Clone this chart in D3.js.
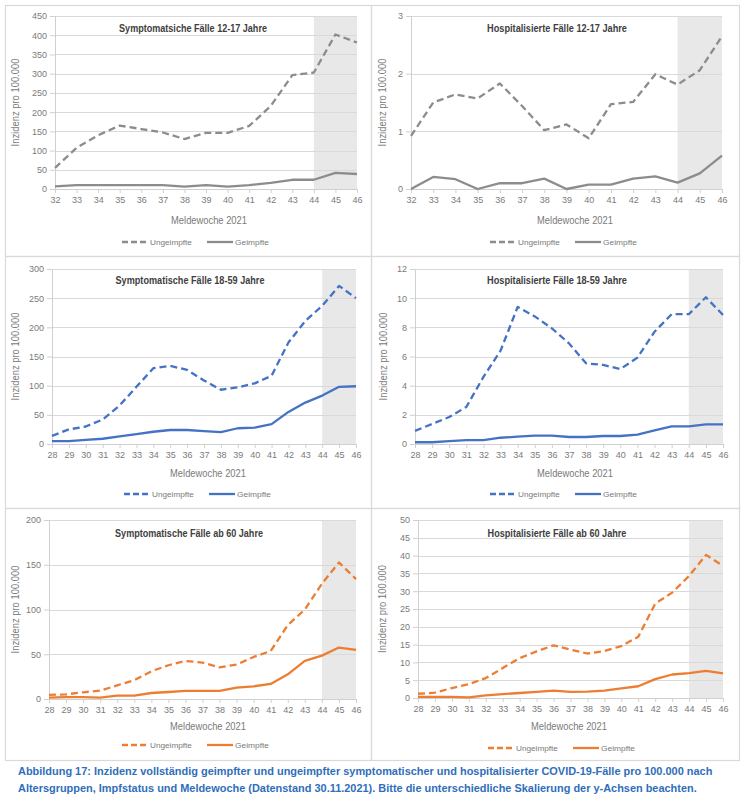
<!DOCTYPE html>
<html><head><meta charset="utf-8">
<script src="https://cdn.jsdelivr.net/npm/d3@7"></script>
<style>body{margin:0;background:#fff}svg{display:block}</style>
</head><body>
<script>
// ---------- data ----------
const weeksYoung = [32,33,34,35,36,37,38,39,40,41,42,43,44,45,46];
const weeksAdult = [28,29,30,31,32,33,34,35,36,37,38,39,40,41,42,43,44,45,46];

const symp1217Ungeimpft = [55,107,140,165,156,147,130,146,146,164,216,296,303,402,381];
const symp1217Geimpft   = [7,10,10,10,10,10,6,10,6,10,16,24,24,42,39];
const hosp1217Ungeimpft = [0.92,1.5,1.64,1.57,1.83,1.44,1.02,1.12,0.88,1.47,1.51,1.99,1.81,2.06,2.65];
const hosp1217Geimpft   = [0,0.21,0.17,0,0.1,0.1,0.18,0,0.075,0.075,0.18,0.22,0.11,0.27,0.58];

const symp1859Ungeimpft = [14,25,30,42,66,98,130,134,127,109,93,97,104,117,174,211,237,271,250];
const symp1859Geimpft   = [5,5,7,9,13,17,21,24,24,22,20.5,27,28,34,55,71,83,98,99];
const hosp1859Ungeimpft = [0.9,1.37,1.85,2.54,4.6,6.4,9.4,8.75,7.93,6.9,5.53,5.42,5.14,5.92,7.7,8.9,8.9,10.06,8.85];
const hosp1859Geimpft   = [0.12,0.12,0.2,0.27,0.27,0.43,0.5,0.57,0.57,0.48,0.48,0.55,0.55,0.64,0.94,1.21,1.21,1.35,1.35];

const symp60Ungeimpft = [4.5,5.2,7.5,9.3,15.3,21,31,37.7,42.5,40.7,35.4,38.4,47,53.7,82.5,100,128.7,152.6,134];
const symp60Geimpft   = [1.5,2,2,1.5,3.7,3.7,6.7,7.8,9,9,9,12.7,14.2,16.8,27.6,42.5,48.5,57.5,55];
const hosp60Ungeimpft = [1.2,1.5,2.8,3.9,5.6,8.4,11.2,13.1,14.8,13.6,12.5,13.2,14.6,17.2,26.5,29.6,34.3,40.2,37.1];
const hosp60Geimpft   = [0.3,0.3,0.3,0.2,0.75,1.1,1.4,1.7,2.05,1.7,1.8,2.1,2.7,3.3,5.3,6.6,7,7.6,6.9];

const ticksSymp1217 = [0,50,100,150,200,250,300,350,400,450];
const ticksHosp1217 = [0,1,2,3];
const ticksSymp1859 = [0,50,100,150,200,250,300];
const ticksHosp1859 = [0,2,4,6,8,10,12];
const ticksSymp60   = [0,50,100,150,200];
const ticksHosp60   = [0,5,10,15,20,25,30,35,40,45,50];

const titles = [
  "Symptomatsiche Fälle 12-17 Jahre",
  "Hospitalisierte Fälle 12-17 Jahre",
  "Symptomatische Fälle 18-59 Jahre",
  "Hospitalisierte Fälle 18-59 Jahre",
  "Symptomatische Fälle ab 60 Jahre",
  "Hospitalisierte Fälle ab 60 Jahre"
];
const seriesNames = ["Ungeimpfte","Geimpfte"];
const shadeFrom = 44, shadeTo = 46;
const xTitle = "Meldewoche 2021";
const yTitle = "Inzidenz pro 100.000";
const captionLines = [
  "Abbildung 17: Inzidenz vollständig geimpfter und ungeimpfter symptomatischer und hospitalisierter COVID-19-Fälle pro 100.000 nach",
  "Altersgruppen, Impfstatus und Meldewoche (Datenstand 30.11.2021). Bitte die unterschiedliche Skalierung der y-Achsen beachten."
];

// ---------- layout / style ----------
const panels = [
  {weeks:weeksYoung, un:symp1217Ungeimpft, ge:symp1217Geimpft, ticks:ticksSymp1217, color:"#8c8c8c",
   cell:[5,5,371,256], plot:{l:55,r:357,t:16,b:189}, titleX:193, titleY:32, titleW:148, xtX:209, xtY:224, ytX:19, legX:122, legY:242},
  {weeks:weeksYoung, un:hosp1217Ungeimpft, ge:hosp1217Geimpft, ticks:ticksHosp1217, color:"#8c8c8c",
   cell:[371,5,739,256], plot:{l:411,r:722,t:16,b:189}, titleX:557, titleY:32, titleW:140, xtX:575, xtY:224, ytX:386, legX:490, legY:242},
  {weeks:weeksAdult, un:symp1859Ungeimpft, ge:symp1859Geimpft, ticks:ticksSymp1859, color:"#4472C4",
   cell:[5,256,371,508], plot:{l:52,r:356,t:269,b:444}, titleX:190, titleY:284, titleW:149, xtX:208, xtY:477, ytX:19, legX:124, legY:494},
  {weeks:weeksAdult, un:hosp1859Ungeimpft, ge:hosp1859Geimpft, ticks:ticksHosp1859, color:"#4472C4",
   cell:[371,256,739,508], plot:{l:415,r:723,t:269,b:444}, titleX:557, titleY:284, titleW:140, xtX:575, xtY:477, ytX:387, legX:490, legY:494},
  {weeks:weeksAdult, un:symp60Ungeimpft, ge:symp60Geimpft, ticks:ticksSymp60, color:"#ED7D31",
   cell:[5,508,371,760], plot:{l:49,r:356,t:520,b:699}, titleX:189, titleY:537, titleW:148, xtX:208, xtY:730, ytX:19, legX:122, legY:745},
  {weeks:weeksAdult, un:hosp60Ungeimpft, ge:hosp60Geimpft, ticks:ticksHosp60, color:"#ED7D31",
   cell:[371,508,739,760], plot:{l:418,r:723,t:520,b:698}, titleX:557, titleY:537, titleW:139, xtX:569, xtY:730, ytX:386, legX:488, legY:748}
];

const FONT = "'Liberation Sans', Arial, sans-serif";
const svg = d3.select("body").append("svg").attr("width",746).attr("height",800)
  .style("font-family", FONT);

// fit a text horizontally to a target width by scaling (keeps its real bbox accurate)
function fitText(sel, x, y, target, anchor) {
  const node = sel.node();
  const w = node.getComputedTextLength();
  const s = w > 0 ? target / w : 1;
  sel.attr("x", 0).attr("y", 0).attr("text-anchor", anchor)
     .attr("transform", `translate(${x},${y}) scale(${s},1)`);
}

// cell borders
const borderColor = "#d9d9d9";
panels.forEach(p => {
  const [x0,y0,x1,y1] = p.cell;
  svg.append("rect").attr("x",x0+0.5).attr("y",y0+0.5).attr("width",x1-x0).attr("height",y1-y0)
    .attr("fill","none").attr("stroke",borderColor).attr("stroke-width",1.2);
});

panels.forEach((p,i) => {
  const g = svg.append("g");
  const P = p.plot;
  const x = d3.scalePoint().domain(p.weeks).range([P.l,P.r]);
  const y = d3.scaleLinear().domain([0, d3.max(p.ticks)]).range([P.b,P.t]);

  // shaded region
  g.append("rect").attr("x",x(shadeFrom)).attr("y",P.t).attr("width",x(shadeTo)-x(shadeFrom))
    .attr("height",P.b-P.t).attr("fill","#e8e8e8");

  // gridlines
  g.append("g").selectAll("line").data(p.ticks.filter(t=>t>0)).join("line")
    .attr("x1",P.l).attr("x2",P.r).attr("y1",d=>Math.round(y(d))+0.5).attr("y2",d=>Math.round(y(d))+0.5)
    .attr("stroke","#d9d9d9").attr("stroke-width",1);

  // y axis
  const ya = g.append("g").attr("transform",`translate(${P.l},0)`)
    .call(d3.axisLeft(y).tickValues(p.ticks).tickSize(5).tickPadding(3).tickFormat(d3.format("d")));
  ya.select(".domain").attr("stroke","#d0d0d0");
  ya.selectAll(".tick line").attr("stroke","#d0d0d0");
  ya.selectAll("text").attr("fill","#7a7a7a").style("font-size","9px").style("font-family",FONT);

  // x axis
  const xa = g.append("g").attr("transform",`translate(0,${P.b})`)
    .call(d3.axisBottom(x).tickSize(4).tickPadding(4));
  xa.select(".domain").attr("stroke","#d0d0d0");
  xa.selectAll(".tick line").attr("stroke","#d0d0d0");
  xa.selectAll("text").attr("fill","#7a7a7a").style("font-size","9px").style("font-family",FONT);

  // lines
  const line = d3.line().x((d,j)=>x(p.weeks[j])).y(d=>y(d));
  g.append("path").datum(p.un).attr("d",line).attr("fill","none").attr("stroke",p.color)
    .attr("stroke-width",2.3).attr("stroke-dasharray","7,4").attr("stroke-linejoin","round");
  g.append("path").datum(p.ge).attr("d",line).attr("fill","none").attr("stroke",p.color)
    .attr("stroke-width",2.3).attr("stroke-linejoin","round");

  // title
  const t = g.append("text").attr("fill","#404040").style("font-weight","bold").style("font-size","10.5px")
    .text(titles[i]);
  fitText(t, p.titleX, p.titleY, p.titleW, "middle");

  // axis titles
  const xt = g.append("text").attr("fill","#7a7a7a").style("font-size","10px").text(xTitle);
  fitText(xt, p.xtX, p.xtY, 76, "middle");
  const yt = g.append("text").attr("fill","#7a7a7a").style("font-size","10px").text(yTitle);
  const yw = yt.node().getComputedTextLength();
  yt.attr("text-anchor","middle")
    .attr("transform",`translate(${p.ytX},${(P.t+P.b)/2}) rotate(-90) scale(${88/yw},1)`);

  // legend
  const lg = g.append("g").attr("transform",`translate(${p.legX},${p.legY})`);
  lg.append("line").attr("x1",0).attr("x2",26).attr("y1",0).attr("y2",0).attr("stroke",p.color)
    .attr("stroke-width",2.3).attr("stroke-dasharray","6,3");
  const l1 = lg.append("text").attr("fill","#7a7a7a").style("font-size","8px").text(seriesNames[0]);
  fitText(l1, 28, 3, 42, "start");
  lg.append("line").attr("x1",85).attr("x2",111).attr("y1",0).attr("y2",0).attr("stroke",p.color)
    .attr("stroke-width",2.3);
  const l2 = lg.append("text").attr("fill","#7a7a7a").style("font-size","8px").text(seriesNames[1]);
  fitText(l2, 113, 3, 34, "start");
});

// caption
const capLens = [695, 679];
captionLines.forEach((line, i) => {
  const c = svg.append("text").attr("fill","#2F6EBA").style("font-weight","bold").style("font-size","11.5px")
    .text(line);
  fitText(c, 18, 775 + i*16.5, capLens[i], "start");
});
</script>
</body></html>
